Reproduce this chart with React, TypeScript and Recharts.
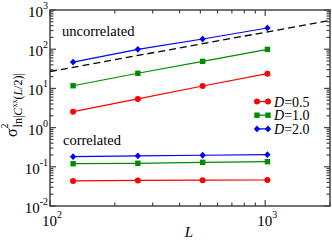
import React from "react"
import { Customized, Legend, Line, LineChart, XAxis, YAxis } from "recharts"

// system sizes L
const sizes = [128, 256, 512, 1024]

// uncorrelated disorder
const uncorrD05 = [2.55, 5.4, 11.5, 23.7]
const uncorrD10 = [11.7, 24.3, 49, 99]
const uncorrD20 = [47, 99, 182, 348]

// correlated disorder
const corrD05 = [0.0435, 0.045, 0.0455, 0.046]
const corrD10 = [0.12, 0.123, 0.13, 0.135]
const corrD20 = [0.181, 0.19, 0.197, 0.204]

// dashed guide ~ L
const guideL = [100, 2000]
const guideValue = [27, 540]

const xTicks = [100, 200, 300, 400, 500, 600, 700, 800, 900, 1000, 2000]
const yTicks = [0.01, 0.1, 1, 10, 100, 1000].flatMap((d) =>
  d === 1000 ? [d] : [1, 2, 3, 4, 5, 6, 7, 8, 9].map((k) => +(k * d).toPrecision(3))
)

const legendItems = [
  { label: "0.5", color: "#ff0000", shape: "circle" },
  { label: "1.0", color: "#008c00", shape: "square" },
  { label: "2.0", color: "#0000ff", shape: "diamond" },
]

const rows = sizes.map((L, i) => ({
  L,
  u05: uncorrD05[i],
  u10: uncorrD10[i],
  u20: uncorrD20[i],
  c05: corrD05[i],
  c10: corrD10[i],
  c20: corrD20[i],
}))
const guideRows = guideL.map((L, i) => ({ L, g: guideValue[i] }))

// plot frame (chart margins below put it here)
const LEFT = 50
const RIGHT = 330
const TOP = 10
const BOTTOM = 206
const SERIF = "'Liberation Serif', 'Times New Roman', serif"
const FRAME = "#444"

const isMajor = (v: number) => Math.abs(Math.log10(v) - Math.round(Math.log10(v))) < 1e-6

function Marker({ shape, color, cx, cy }: { shape: string; color: string; cx: number; cy: number }) {
  if (shape === "square") return <rect x={cx - 2.7} y={cy - 2.7} width={5.4} height={5.4} fill={color} />
  if (shape === "diamond")
    return <polygon points={`${cx},${cy - 3.4} ${cx + 3.2},${cy} ${cx},${cy + 3.4} ${cx - 3.2},${cy}`} fill={color} />
  return <circle cx={cx} cy={cy} r={3} fill={color} />
}

const dotFor = (shape: string, color: string) => (p: any) =>
  <Marker key={p.index} shape={shape} color={color} cx={p.cx} cy={p.cy} />

function XTick(props: any) {
  const { x, payload } = props
  const v = payload.value
  const len = isMajor(v) ? 6 : 3.5
  return (
    <g>
      <line x1={x} y1={BOTTOM} x2={x} y2={BOTTOM - len} stroke={FRAME} strokeWidth={1.2} />
      <line x1={x} y1={TOP} x2={x} y2={TOP + len} stroke={FRAME} strokeWidth={1.2} />
      {isMajor(v) && (
        <text x={x + 2} y={226} textAnchor="middle" fontFamily={SERIF} fontSize={15} fill="#000">
          10
          <tspan dy={-8} fontSize={10}>
            {Math.round(Math.log10(v))}
          </tspan>
        </text>
      )}
    </g>
  )
}

function YTick(props: any) {
  const { y, payload } = props
  const v = payload.value
  const len = isMajor(v) ? 6 : 3.5
  return (
    <g>
      <line x1={LEFT} y1={y} x2={LEFT + len} y2={y} stroke={FRAME} strokeWidth={1.2} />
      <line x1={RIGHT} y1={y} x2={RIGHT - len} y2={y} stroke={FRAME} strokeWidth={1.2} />
      {isMajor(v) && (
        <text x={48} y={y + 7} textAnchor="end" fontFamily={SERIF} fontSize={15} fill="#000">
          10
          <tspan dy={-8} fontSize={10}>
            {Math.round(Math.log10(v))}
          </tspan>
        </text>
      )}
    </g>
  )
}

function Overlay() {
  return (
    <g fontFamily={SERIF} fill="#000">
      <rect x={LEFT} y={TOP} width={RIGHT - LEFT} height={BOTTOM - TOP} fill="none" stroke={FRAME} strokeWidth={1.5} />
      <text x={62} y={36} fontSize={14.5}>uncorrelated</text>
      <text x={63} y={145} fontSize={14.5}>correlated</text>
      <text x={189} y={237} fontSize={15} fontStyle="italic" textAnchor="middle">L</text>
      <text transform="translate(17,137) rotate(-90)" fontSize={16}>
        σ
        <tspan dy={-9} fontSize={10}>2</tspan>
        <tspan dx={-4} dy={14} fontSize={12}>ln|</tspan>
        <tspan fontSize={12} fontStyle="italic">C</tspan>
        <tspan dy={-5} fontSize={8}>xx</tspan>
        <tspan dy={5} fontSize={12}>(</tspan>
        <tspan fontSize={12} fontStyle="italic">L</tspan>
        <tspan fontSize={12}>/2)|</tspan>
      </text>
    </g>
  )
}

function LegendBox() {
  return (
    <svg width={80} height={46} style={{ display: "block" }}>
      {legendItems.map((it, i) => {
        const cy = 9.5 + i * 13.7
        return (
          <g key={it.label}>
            <line x1={5} y1={cy} x2={16} y2={cy} stroke={it.color} strokeWidth={1.3} />
            <Marker shape={it.shape} color={it.color} cx={5} cy={cy} />
            <Marker shape={it.shape} color={it.color} cx={16} cy={cy} />
            <text x={22} y={cy + 5} fontFamily={SERIF} fontSize={14} fill="#000">
              <tspan fontStyle="italic">D</tspan>={it.label}
            </text>
          </g>
        )
      })}
    </svg>
  )
}

export default function App() {
  return (
    <div style={{ position: "absolute", left: 0, top: 0 }}>
      <LineChart width={332} height={240} data={rows} margin={{ top: 10, right: 2, bottom: 0, left: 0 }}>
        <XAxis
          dataKey="L"
          type="number"
          scale="log"
          domain={[100, 2000]}
          allowDataOverflow
          ticks={xTicks}
          interval={0}
          height={34}
          axisLine={false}
          tickLine={false}
          tick={(p: any) => <XTick {...p} />}
        />
        <YAxis
          type="number"
          scale="log"
          domain={[0.01, 1000]}
          allowDataOverflow
          ticks={yTicks}
          interval={0}
          width={50}
          axisLine={false}
          tickLine={false}
          tick={(p: any) => <YTick {...p} />}
        />
        <Line data={guideRows} dataKey="g" stroke="#000" strokeWidth={1.3} strokeDasharray="7 4" dot={false} isAnimationActive={false} legendType="none" />
        <Line dataKey="u05" stroke="#ff0000" strokeWidth={1.2} dot={dotFor("circle", "#ff0000")} isAnimationActive={false} />
        <Line dataKey="u10" stroke="#008c00" strokeWidth={1.2} dot={dotFor("square", "#008c00")} isAnimationActive={false} />
        <Line dataKey="u20" stroke="#0000ff" strokeWidth={1.2} dot={dotFor("diamond", "#0000ff")} isAnimationActive={false} />
        <Line dataKey="c05" stroke="#ff0000" strokeWidth={1.2} dot={dotFor("circle", "#ff0000")} isAnimationActive={false} />
        <Line dataKey="c10" stroke="#008c00" strokeWidth={1.2} dot={dotFor("square", "#008c00")} isAnimationActive={false} />
        <Line dataKey="c20" stroke="#0000ff" strokeWidth={1.2} dot={dotFor("diamond", "#0000ff")} isAnimationActive={false} />
        <Customized component={Overlay} />
        <Legend
          layout="horizontal"
          verticalAlign="middle"
          align="center"
          content={() => <LegendBox />}
          wrapperStyle={{ position: "absolute", left: 252, top: 92, width: 80, height: 46 }}
        />
      </LineChart>
    </div>
  )
}
